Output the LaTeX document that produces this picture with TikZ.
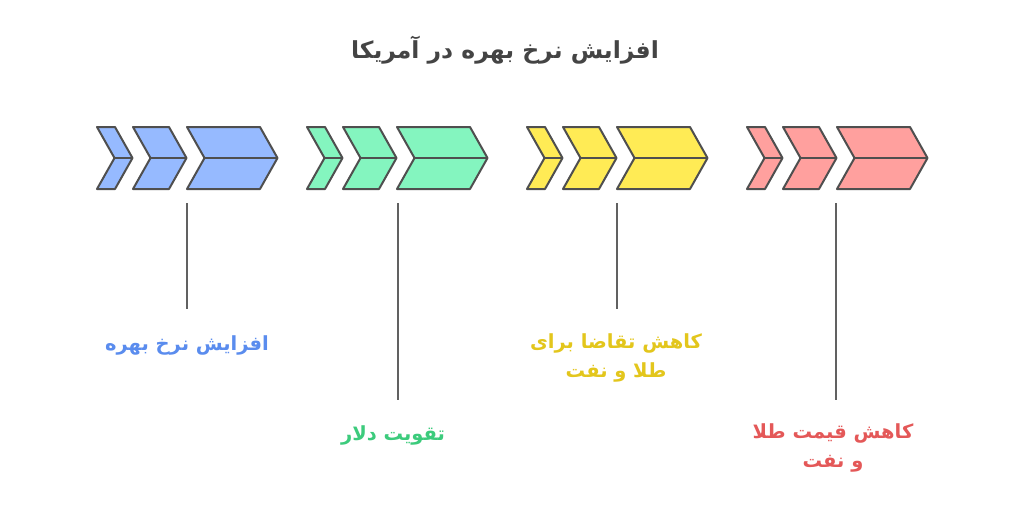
\documentclass[tikz,border=0pt]{standalone}
\usepackage{fontspec}
\TeXXeTstate=1
\newfontfamily\arabicfont[Script=Arabic]{DejaVu Sans}
\definecolor{strk}{HTML}{4F4F4F}
\definecolor{blueF}{HTML}{96BAFF}
\definecolor{blueT}{HTML}{5A8CEE}
\definecolor{greenF}{HTML}{84F5BF}
\definecolor{greenT}{HTML}{3CCB7C}
\definecolor{yellowF}{HTML}{FFEB55}
\definecolor{yellowT}{HTML}{E3C61C}
\definecolor{redF}{HTML}{FFA09E}
\definecolor{redT}{HTML}{E45858}
\definecolor{titleC}{HTML}{444444}
\tikzset{
  chev/.style={draw=strk, line width=1.5pt, line join=round},
  stem/.style={draw=strk!90, line width=1.5pt},
  lbl/.style={font=\arabicfont\bfseries\fontsize{14.6}{22}\selectfont, align=center, inner sep=0pt},
}
\newcommand{\mychev}[4]{% left, right, fill, d
  \filldraw[chev, fill=#3] (#1,127) -- (#2,127) -- ({#2+#4},158) -- (#2,189) -- (#1,189) -- ({#1+#4},158) -- cycle;
  \draw[chev] ({#1+#4},158) -- ({#2+#4},158);
}
\newcommand{\mygroup}[2]{% start, fill
  \mychev{#1}{#1+18}{#2}{17.5}
  \mychev{#1+36}{#1+72}{#2}{17.5}
  \mychev{#1+90}{#1+163}{#2}{17.5}
}
\begin{document}
\begin{tikzpicture}[x=0.75pt,y=-0.75pt]
\useasboundingbox[fill=white] (0,0) rectangle (1024,512);
\node[font=\arabicfont\bfseries\fontsize{17.6}{20}\selectfont, text=titleC, inner sep=0pt] (title) at (505,50) {\beginR افزایش نرخ بهره در آمریکا\endR};

\mygroup{97}{blueF}
\mygroup{307}{greenF}
\mygroup{527}{yellowF}
\mygroup{747}{redF}

\coordinate (b1) at (187,203); \coordinate (b2) at (187,309);
\coordinate (g1) at (398,203); \coordinate (g2) at (398,400);
\coordinate (y1) at (617,203); \coordinate (y2) at (617,309);
\coordinate (r1) at (836,203); \coordinate (r2) at (836,400);
\draw[stem] (b1) -- (b2);
\draw[stem] (g1) -- (g2);
\draw[stem] (y1) -- (y2);
\draw[stem] (r1) -- (r2);

\node[lbl, text=blueT] (lb) at (187,345) {\beginR افزایش نرخ بهره\endR};
\node[lbl, text=greenT] (lg) at (393,435) {\beginR تقویت دلار\endR};
\node[lbl, text=yellowT] (ly) at (616,358) {\beginR کاهش تقاضا برای\endR\\\beginR طلا و نفت\endR};
\node[lbl, text=redT] (lr) at (833,448) {\beginR کاهش قیمت طلا\endR\\\beginR و نفت\endR};
\end{tikzpicture}
\end{document}
